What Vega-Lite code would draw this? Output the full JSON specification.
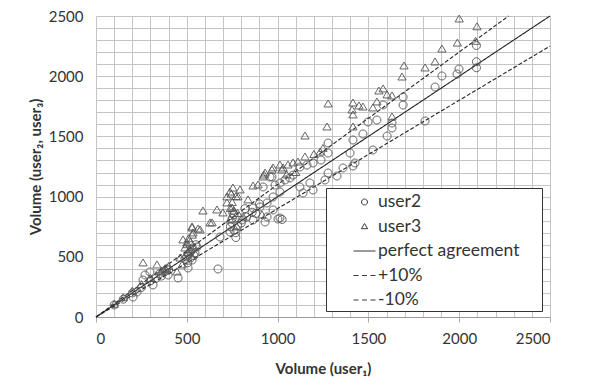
{
  "$schema": "https://vega.github.io/schema/vega-lite/v6.json",
  "width": 454,
  "height": 301,
  "autosize": {"type": "none"},
  "padding": {"left": 96, "top": 16, "right": 46, "bottom": 68},
  "background": "white",
  "config": {
    "font": "Lato",
    "view": {"stroke": null},
    "axis": {"labelFont": "Lato", "titleFont": "Lato", "labelColor": "#333", "titleColor": "#333"}
  },
  "datasets": {
    "pts": [
      {"v1": 2095, "v": 2255, "user": "user2"}, {"v1": 2095, "v": 2120, "user": "user2"}, {"v1": 2095, "v": 2070, "user": "user2"},
      {"v1": 1999, "v": 2060, "user": "user2"}, {"v1": 1988, "v": 2018, "user": "user2"}, {"v1": 1905, "v": 2002, "user": "user2"},
      {"v1": 1867, "v": 1910, "user": "user2"}, {"v1": 1812, "v": 1628, "user": "user2"}, {"v1": 1581, "v": 1761, "user": "user2"},
      {"v1": 1691, "v": 1827, "user": "user2"}, {"v1": 1691, "v": 1761, "user": "user2"}, {"v1": 1547, "v": 1636, "user": "user2"},
      {"v1": 1498, "v": 1620, "user": "user2"}, {"v1": 1630, "v": 1611, "user": "user2"}, {"v1": 1630, "v": 1570, "user": "user2"},
      {"v1": 1470, "v": 1520, "user": "user2"}, {"v1": 1415, "v": 1470, "user": "user2"}, {"v1": 1603, "v": 1503, "user": "user2"},
      {"v1": 1525, "v": 1387, "user": "user2"}, {"v1": 1399, "v": 1362, "user": "user2"}, {"v1": 1426, "v": 1279, "user": "user2"},
      {"v1": 1415, "v": 1254, "user": "user2"}, {"v1": 1278, "v": 1445, "user": "user2"}, {"v1": 1278, "v": 1362, "user": "user2"},
      {"v1": 1239, "v": 1304, "user": "user2"}, {"v1": 1195, "v": 1279, "user": "user2"}, {"v1": 1162, "v": 1262, "user": "user2"},
      {"v1": 1123, "v": 1246, "user": "user2"}, {"v1": 1085, "v": 1179, "user": "user2"}, {"v1": 1068, "v": 1155, "user": "user2"},
      {"v1": 1041, "v": 1138, "user": "user2"}, {"v1": 1013, "v": 1113, "user": "user2"}, {"v1": 986, "v": 1096, "user": "user2"},
      {"v1": 958, "v": 1163, "user": "user2"}, {"v1": 1123, "v": 1080, "user": "user2"}, {"v1": 1178, "v": 1113, "user": "user2"},
      {"v1": 1195, "v": 1055, "user": "user2"}, {"v1": 1140, "v": 1030, "user": "user2"}, {"v1": 1278, "v": 1196, "user": "user2"},
      {"v1": 1261, "v": 1138, "user": "user2"}, {"v1": 1327, "v": 1171, "user": "user2"}, {"v1": 1360, "v": 1238, "user": "user2"},
      {"v1": 920, "v": 1080, "user": "user2"}, {"v1": 969, "v": 1163, "user": "user2"}, {"v1": 1013, "v": 1038, "user": "user2"},
      {"v1": 975, "v": 997, "user": "user2"}, {"v1": 942, "v": 947, "user": "user2"}, {"v1": 903, "v": 914, "user": "user2"},
      {"v1": 865, "v": 905, "user": "user2"}, {"v1": 975, "v": 889, "user": "user2"}, {"v1": 1013, "v": 822, "user": "user2"},
      {"v1": 942, "v": 831, "user": "user2"}, {"v1": 865, "v": 806, "user": "user2"}, {"v1": 804, "v": 806, "user": "user2"},
      {"v1": 754, "v": 864, "user": "user2"}, {"v1": 738, "v": 706, "user": "user2"}, {"v1": 683, "v": 664, "user": "user2"},
      {"v1": 1002, "v": 814, "user": "user2"}, {"v1": 1025, "v": 810, "user": "user2"}, {"v1": 931, "v": 789, "user": "user2"},
      {"v1": 672, "v": 399, "user": "user2"}, {"v1": 507, "v": 407, "user": "user2"}, {"v1": 452, "v": 324, "user": "user2"},
      {"v1": 314, "v": 266, "user": "user2"}, {"v1": 270, "v": 349, "user": "user2"}, {"v1": 297, "v": 374, "user": "user2"},
      {"v1": 369, "v": 374, "user": "user2"}, {"v1": 397, "v": 349, "user": "user2"}, {"v1": 556, "v": 581, "user": "user2"},
      {"v1": 529, "v": 473, "user": "user2"}, {"v1": 545, "v": 532, "user": "user2"}, {"v1": 259, "v": 307, "user": "user2"},
      {"v1": 226, "v": 208, "user": "user2"}, {"v1": 204, "v": 166, "user": "user2"},
      {"v1": 500, "v": 500, "user": "user2"}, {"v1": 510, "v": 520, "user": "user2"}, {"v1": 520, "v": 540, "user": "user2"},
      {"v1": 530, "v": 560, "user": "user2"}, {"v1": 490, "v": 480, "user": "user2"}, {"v1": 540, "v": 510, "user": "user2"},
      {"v1": 550, "v": 600, "user": "user2"}, {"v1": 505, "v": 450, "user": "user2"}, {"v1": 520, "v": 490, "user": "user2"},
      {"v1": 740, "v": 750, "user": "user2"}, {"v1": 750, "v": 780, "user": "user2"}, {"v1": 760, "v": 720, "user": "user2"},
      {"v1": 770, "v": 700, "user": "user2"}, {"v1": 780, "v": 760, "user": "user2"}, {"v1": 750, "v": 820, "user": "user2"},
      {"v1": 760, "v": 850, "user": "user2"}, {"v1": 770, "v": 660, "user": "user2"}, {"v1": 800, "v": 780, "user": "user2"},
      {"v1": 350, "v": 360, "user": "user2"}, {"v1": 380, "v": 380, "user": "user2"}, {"v1": 400, "v": 390, "user": "user2"},
      {"v1": 360, "v": 340, "user": "user2"}, {"v1": 390, "v": 400, "user": "user2"},
      {"v1": 100, "v": 100, "user": "user2"}, {"v1": 150, "v": 148, "user": "user2"}, {"v1": 200, "v": 200, "user": "user2"},
      {"v1": 250, "v": 245, "user": "user2"}, {"v1": 300, "v": 300, "user": "user2"}, {"v1": 330, "v": 320, "user": "user2"},
      {"v1": 830, "v": 830, "user": "user2"}, {"v1": 860, "v": 870, "user": "user2"}, {"v1": 880, "v": 860, "user": "user2"},
      {"v1": 900, "v": 940, "user": "user2"}, {"v1": 820, "v": 900, "user": "user2"},

      {"v1": 2000, "v": 2475, "user": "user3"}, {"v1": 2098, "v": 2410, "user": "user3"}, {"v1": 1990, "v": 2275, "user": "user3"},
      {"v1": 1905, "v": 2225, "user": "user3"}, {"v1": 2090, "v": 2290, "user": "user3"}, {"v1": 1867, "v": 2118, "user": "user3"},
      {"v1": 1812, "v": 2068, "user": "user3"}, {"v1": 1696, "v": 2085, "user": "user3"}, {"v1": 1685, "v": 1993, "user": "user3"},
      {"v1": 1558, "v": 1877, "user": "user3"}, {"v1": 1581, "v": 1894, "user": "user3"}, {"v1": 1603, "v": 1844, "user": "user3"},
      {"v1": 1630, "v": 1836, "user": "user3"}, {"v1": 1547, "v": 1786, "user": "user3"}, {"v1": 1415, "v": 1777, "user": "user3"},
      {"v1": 1448, "v": 1753, "user": "user3"}, {"v1": 1470, "v": 1744, "user": "user3"}, {"v1": 1525, "v": 1736, "user": "user3"},
      {"v1": 1410, "v": 1719, "user": "user3"}, {"v1": 1415, "v": 1678, "user": "user3"}, {"v1": 1630, "v": 1661, "user": "user3"},
      {"v1": 1415, "v": 1578, "user": "user3"}, {"v1": 1278, "v": 1769, "user": "user3"}, {"v1": 1272, "v": 1578, "user": "user3"},
      {"v1": 1151, "v": 1503, "user": "user3"}, {"v1": 1234, "v": 1370, "user": "user3"}, {"v1": 1151, "v": 1329, "user": "user3"},
      {"v1": 1112, "v": 1287, "user": "user3"}, {"v1": 1085, "v": 1279, "user": "user3"}, {"v1": 1057, "v": 1262, "user": "user3"},
      {"v1": 1030, "v": 1238, "user": "user3"}, {"v1": 1024, "v": 1221, "user": "user3"}, {"v1": 975, "v": 1238, "user": "user3"},
      {"v1": 969, "v": 1221, "user": "user3"}, {"v1": 925, "v": 1179, "user": "user3"}, {"v1": 1013, "v": 1262, "user": "user3"},
      {"v1": 931, "v": 1196, "user": "user3"}, {"v1": 920, "v": 1163, "user": "user3"}, {"v1": 892, "v": 1096, "user": "user3"},
      {"v1": 865, "v": 1088, "user": "user3"}, {"v1": 793, "v": 1055, "user": "user3"}, {"v1": 754, "v": 1071, "user": "user3"},
      {"v1": 738, "v": 1038, "user": "user3"}, {"v1": 721, "v": 997, "user": "user3"}, {"v1": 782, "v": 997, "user": "user3"},
      {"v1": 837, "v": 972, "user": "user3"}, {"v1": 721, "v": 947, "user": "user3"}, {"v1": 749, "v": 905, "user": "user3"},
      {"v1": 666, "v": 889, "user": "user3"}, {"v1": 589, "v": 880, "user": "user3"}, {"v1": 699, "v": 864, "user": "user3"},
      {"v1": 810, "v": 831, "user": "user3"}, {"v1": 914, "v": 847, "user": "user3"}, {"v1": 639, "v": 781, "user": "user3"},
      {"v1": 573, "v": 723, "user": "user3"}, {"v1": 529, "v": 739, "user": "user3"}, {"v1": 534, "v": 698, "user": "user3"},
      {"v1": 738, "v": 806, "user": "user3"}, {"v1": 776, "v": 748, "user": "user3"}, {"v1": 529, "v": 748, "user": "user3"},
      {"v1": 562, "v": 731, "user": "user3"}, {"v1": 628, "v": 781, "user": "user3"}, {"v1": 479, "v": 640, "user": "user3"},
      {"v1": 501, "v": 615, "user": "user3"}, {"v1": 490, "v": 573, "user": "user3"}, {"v1": 259, "v": 449, "user": "user3"},
      {"v1": 336, "v": 432, "user": "user3"}, {"v1": 463, "v": 490, "user": "user3"}, {"v1": 474, "v": 432, "user": "user3"},
      {"v1": 446, "v": 374, "user": "user3"}, {"v1": 507, "v": 532, "user": "user3"},
      {"v1": 500, "v": 600, "user": "user3"}, {"v1": 510, "v": 650, "user": "user3"}, {"v1": 520, "v": 620, "user": "user3"},
      {"v1": 530, "v": 680, "user": "user3"}, {"v1": 540, "v": 580, "user": "user3"}, {"v1": 515, "v": 560, "user": "user3"},
      {"v1": 740, "v": 900, "user": "user3"}, {"v1": 750, "v": 950, "user": "user3"}, {"v1": 760, "v": 880, "user": "user3"},
      {"v1": 770, "v": 1000, "user": "user3"}, {"v1": 745, "v": 1020, "user": "user3"}, {"v1": 780, "v": 860, "user": "user3"},
      {"v1": 380, "v": 400, "user": "user3"}, {"v1": 360, "v": 380, "user": "user3"}, {"v1": 400, "v": 420, "user": "user3"},
      {"v1": 100, "v": 105, "user": "user3"}, {"v1": 150, "v": 160, "user": "user3"}, {"v1": 200, "v": 215, "user": "user3"},
      {"v1": 250, "v": 270, "user": "user3"}, {"v1": 300, "v": 320, "user": "user3"},
      {"v1": 1050, "v": 1180, "user": "user3"}, {"v1": 1100, "v": 1200, "user": "user3"}, {"v1": 1200, "v": 1350, "user": "user3"},
      {"v1": 1250, "v": 1400, "user": "user3"}
    ],
    "lines": [
      {"x": 0, "y": 0, "kind": "perfect agreement"}, {"x": 2500, "y": 2500, "kind": "perfect agreement"},
      {"x": 0, "y": 0, "kind": "+10%"}, {"x": 2272, "y": 2500, "kind": "+10%"},
      {"x": 0, "y": 0, "kind": "-10%"}, {"x": 2500, "y": 2250, "kind": "-10%"}
    ]
  },
  "layer": [
    {
      "data": {"name": "lines"},
      "mark": {"type": "line", "color": "#222", "strokeWidth": 1.1},
      "encoding": {
        "x": {"field": "x", "type": "quantitative", "scale": {"domain": [0, 2500], "nice": false}},
        "y": {"field": "y", "type": "quantitative", "scale": {"domain": [0, 2500], "nice": false}},
        "detail": {"field": "kind"},
        "strokeDash": {"field": "kind", "type": "nominal", "legend": null,
          "scale": {"domain": ["perfect agreement", "+10%", "-10%"], "range": [[1, 0], [4, 2], [4, 2]]}}
      }
    },
    {
      "data": {"name": "pts"},
      "mark": {"type": "point", "filled": false, "size": 880, "strokeWidth": 1, "color": "#555", "opacity": 0.9},
      "encoding": {
        "x": {"field": "v1", "type": "quantitative",
          "scale": {"domain": [0, 2500], "nice": false},
          "axis": {
            "title": "Volume (user₁)",
            "values": [0,100,200,300,400,500,600,700,800,900,1000,1100,1200,1300,1400,1500,1600,1700,1800,1900,2000,2100,2200,2300,2400,2500],
            "tickCount": 30,
            "labelExpr": "datum.value % 500 === 0 ? datum.label : ''",
            "labelOverlap": false,
            "format": "d",
            "labelFontSize": 15,
            "labelPadding": 9,
            "tickSize": 5,
            "tickColor": {"condition": {"test": "datum.value % 500 === 0", "value": "#aaa"}, "value": "transparent"},
            "domainColor": "#999",
            "gridColor": "#c4c4c4",
            "gridWidth": 1,
            "titleFontSize": 15,
            "titleFontWeight": "bold",
            "titlePadding": 15
          }
        },
        "y": {"field": "v", "type": "quantitative",
          "scale": {"domain": [0, 2500], "nice": false},
          "axis": {
            "title": "Volume (user₂, user₃)",
            "values": [0,100,200,300,400,500,600,700,800,900,1000,1100,1200,1300,1400,1500,1600,1700,1800,1900,2000,2100,2200,2300,2400,2500],
            "tickCount": 30,
            "labelExpr": "datum.value % 500 === 0 ? datum.label : ''",
            "labelOverlap": false,
            "format": "d",
            "labelFontSize": 15,
            "labelPadding": 13,
            "ticks": false,
            "domain": false,
            "gridColor": "#c4c4c4",
            "gridWidth": 1,
            "titleFontSize": 15,
            "titleFontWeight": "bold",
            "titlePadding": 5
          }
        },
        "shape": {"field": "user", "type": "nominal",
          "scale": {
            "domain": ["user2", "user3", "perfect agreement", "+10%", "-10%"],
            "range": [
              "M-0.27,0A0.27,0.27 0 1,1 0.27,0A0.27,0.27 0 1,1 -0.27,0Z",
              "M0,-0.27L0.28,0.2L-0.28,0.2Z",
              "M-1,0H1",
              "M-1,0H-0.55M-0.22,0H0.22M0.55,0H1",
              "M-1,0H-0.55M-0.22,0H0.22M0.55,0H1"
            ]
          },
          "legend": {
            "title": ".",
            "titleColor": "white",
            "titleOrient": "right",
            "titlePadding": 18,
            "titleFontSize": 6,
            "orient": "none",
            "legendX": 230,
            "legendY": 172,
            "padding": 2.5,
            "symbolOffset": 24.5,
            "symbolSize": 484,
            "symbolStrokeColor": "#222",
            "symbolStrokeWidth": 1,
            "symbolFillColor": "transparent",
            "labelFont": "Lato",
            "labelFontSize": 17.5,
            "labelColor": "#333",
            "labelOffset": 2,
            "labelLimit": 400,
            "rowPadding": 4.5,
            "strokeColor": "#333",
            "fillColor": "white"
          }
        }
      }
    }
  ]
}
